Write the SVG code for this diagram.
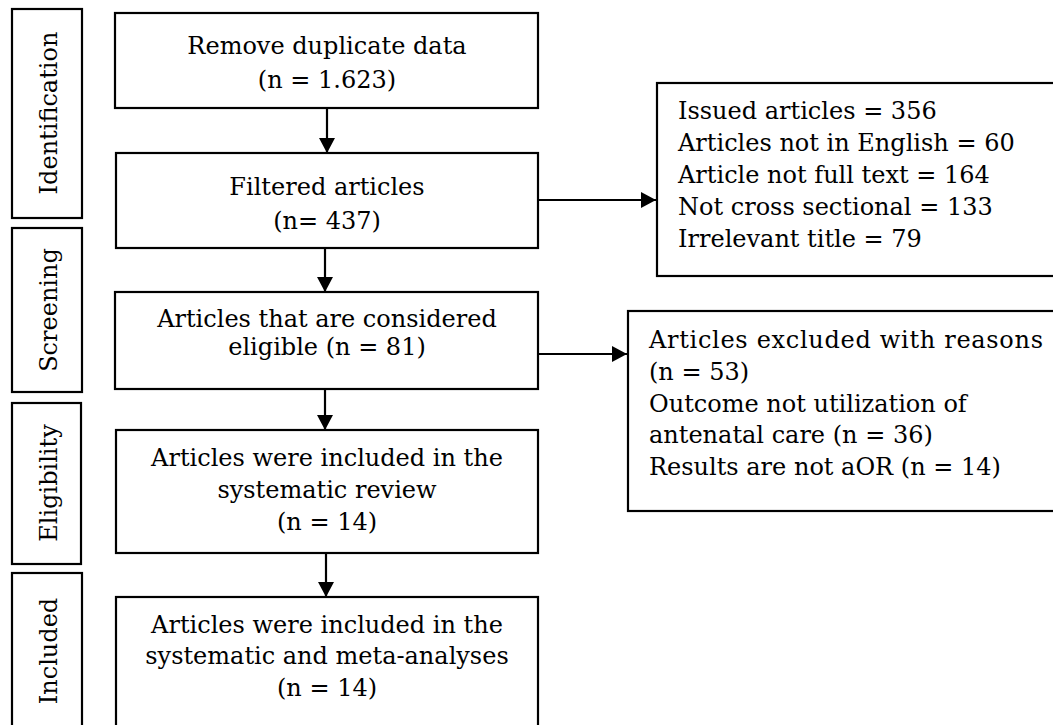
<svg xmlns="http://www.w3.org/2000/svg" width="1053" height="725" viewBox="0 0 1053 725">
<style>
.box{fill:#fff;stroke:#000;stroke-width:2.2}
.t{font-family:"DejaVu Serif","Liberation Serif",serif;font-size:24px;fill:#000}
.c{text-anchor:middle}
.conn{stroke:#000;stroke-width:2.2;fill:none}
</style>
<defs>
<marker id="ah" markerUnits="userSpaceOnUse" markerWidth="15" markerHeight="16" refX="15" refY="8" orient="auto">
<path d="M0,0 L15,8 L0,16 z" fill="#000"/>
</marker>
</defs>
<rect width="1053" height="725" fill="#fff"/>
<g id="stage-identification">
<rect class="box" x="12" y="9" width="70" height="209"/>
<text class="t c" transform="translate(57,113) rotate(-90)">Identification</text>
</g>
<g id="stage-screening">
<rect class="box" x="12" y="228" width="70" height="164"/>
<text class="t c" transform="translate(57,310) rotate(-90)">Screening</text>
</g>
<g id="stage-eligibility">
<rect class="box" x="12" y="403" width="69" height="161"/>
<text class="t c" transform="translate(57,483) rotate(-90)">Eligibility</text>
</g>
<g id="stage-included">
<rect class="box" x="12" y="573" width="70" height="170"/>
<text class="t c" transform="translate(57,651) rotate(-90)">Included</text>
</g>
<g id="n-remove">
<rect class="box" x="115" y="13" width="423" height="95"/>
<text class="t c" x="327" y="54">Remove duplicate data</text>
<text class="t c" x="327" y="88">(n = 1.623)</text>
</g>
<g id="n-filtered">
<rect class="box" x="116" y="153" width="422" height="95"/>
<text class="t c" x="327" y="195">Filtered articles</text>
<text class="t c" x="327" y="229">(n= 437)</text>
</g>
<g id="n-eligible">
<rect class="box" x="115" y="292" width="423" height="97"/>
<text class="t c" x="327" y="327">Articles that are considered</text>
<text class="t c" x="327" y="355">eligible (n = 81)</text>
</g>
<g id="n-review">
<rect class="box" x="116" y="430" width="422" height="123"/>
<text class="t c" x="327" y="466">Articles were included in the</text>
<text class="t c" x="327" y="498">systematic review</text>
<text class="t c" x="327" y="530">(n = 14)</text>
</g>
<g id="n-meta">
<rect class="box" x="116" y="597" width="422" height="150"/>
<text class="t c" x="327" y="633">Articles were included in the</text>
<text class="t c" x="327" y="664">systematic and meta-analyses</text>
<text class="t c" x="327" y="696">(n = 14)</text>
</g>
<g id="n-excluded1">
<rect class="box" x="657" y="83" width="420" height="193"/>
<text class="t" x="678" y="119">Issued articles = 356</text>
<text class="t" x="678" y="151">Articles not in English = 60</text>
<text class="t" x="678" y="183">Article not full text = 164</text>
<text class="t" x="678" y="215">Not cross sectional = 133</text>
<text class="t" x="678" y="247">Irrelevant title = 79</text>
</g>
<g id="n-excluded2">
<rect class="box" x="628" y="311" width="450" height="200"/>
<text class="t" x="649" y="348" textLength="394" lengthAdjust="spacing">Articles excluded with reasons</text>
<text class="t" x="649" y="380">(n = 53)</text>
<text class="t" x="649" y="412">Outcome not utilization of</text>
<text class="t" x="649" y="443">antenatal care (n = 36)</text>
<text class="t" x="649" y="475">Results are not aOR (n = 14)</text>
</g>
<g id="connectors">
<line class="conn" x1="327" y1="108" x2="327" y2="153" marker-end="url(#ah)"/>
<line class="conn" x1="325" y1="248" x2="325" y2="292" marker-end="url(#ah)"/>
<line class="conn" x1="325" y1="389" x2="325" y2="430" marker-end="url(#ah)"/>
<line class="conn" x1="326" y1="553" x2="326" y2="597" marker-end="url(#ah)"/>
<line class="conn" x1="538" y1="200" x2="656" y2="200" marker-end="url(#ah)"/>
<line class="conn" x1="538" y1="354" x2="627" y2="354" marker-end="url(#ah)"/>
</g>
</svg>
